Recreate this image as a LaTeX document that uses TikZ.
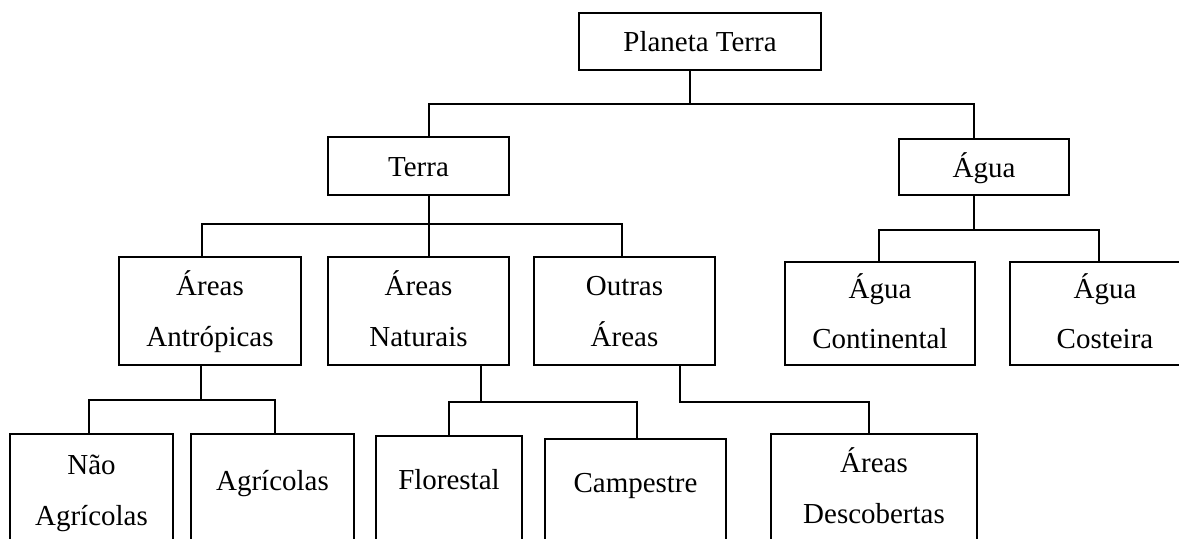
\documentclass[tikz,border=0pt]{standalone}
\usepackage{fontspec}
\setmainfont{Liberation Serif}
\begin{document}
\begin{tikzpicture}[
        x=0.025cm, y=-0.025cm,
        box/.style={rectangle, draw=black, line width=1.1pt, inner sep=0pt, align=center,
            font=\fontsize{20.6}{35.6}\selectfont, text height=0.875cm, text depth=0.375cm},
        twoline/.style={box, text height=2.125cm},
        link/.style={draw=black, line width=1.1pt}
    ]
    \useasboundingbox (0,0) rectangle (1179,539);
    \clip (0,0) rectangle (1179,539);

    % nivel 1
    \node[box, minimum width=6.05cm, minimum height=1.425cm] (planeta) at (700,41.5) {Planeta Terra};
    % nivel 2
    \node[box, minimum width=4.525cm, minimum height=1.45cm] (terra) at (418.5,166) {Terra};
    \node[box, minimum width=4.25cm, minimum height=1.4cm] (agua) at (984,167) {Água};
    % nivel 3
    \node[twoline, minimum width=4.55cm, minimum height=2.7cm] (antropicas) at (210,311) {Áreas\\Antrópicas};
    \node[twoline, minimum width=4.525cm, minimum height=2.7cm] (naturais) at (418.5,311) {Áreas\\Naturais};
    \node[twoline, minimum width=4.525cm, minimum height=2.7cm] (outras) at (624.5,311) {Outras\\Áreas};
    \node[twoline, minimum width=4.75cm, minimum height=2.575cm] (continental) at (880,313.5) {Água\\Continental};
    \node[twoline, minimum width=4.75cm, minimum height=2.575cm] (costeira) at (1105,313.5) {Água\\Costeira};
    % nivel 4
    \node[twoline, minimum width=4.075cm, minimum height=2.8cm] (naoagr) at (91.5,490) {Não\\Agrícolas};
    \node[twoline, minimum width=4.075cm, minimum height=3.6cm] (agricolas) at (272.5,506) {Agrícolas\\\phantom{A}};
    \node[twoline, minimum width=3.65cm, minimum height=3.45cm] (florestal) at (449,505) {Florestal\\\phantom{F}};
    \node[twoline, minimum width=4.525cm, minimum height=3.45cm] (campestre) at (635.5,508) {Campestre\\\phantom{C}};
    \node[twoline, minimum width=5.15cm, minimum height=2.7cm] (descobertas) at (874,488) {Áreas\\Descobertas};

    % ligacoes
    \draw[link] ([xshift=-0.25cm]planeta.south) -- ++(0,33) -| ([xshift=0.2625cm]terra.north);
    \draw[link] ([xshift=-0.25cm]planeta.south) -- ++(0,33) -| ([xshift=-0.25cm]agua.north);

    \draw[link] ([xshift=0.2625cm]terra.south) -- ++(0,28) -| ([xshift=-0.2cm]antropicas.north);
    \draw[link] ([xshift=0.2625cm]terra.south) -- ++(0,28) -| ([xshift=0.2625cm]naturais.north);
    \draw[link] ([xshift=0.2625cm]terra.south) -- ++(0,28) -| ([xshift=-0.0625cm]outras.north);

    \draw[link] ([xshift=-0.25cm]agua.south) -- ++(0,34) -| ([xshift=-0.025cm]continental.north);
    \draw[link] ([xshift=-0.25cm]agua.south) -- ++(0,34) -| ([xshift=-0.15cm]costeira.north);

    \draw[link] ([xshift=-0.225cm]antropicas.south) -- ++(0,34) -| ([xshift=-0.0625cm]naoagr.north);
    \draw[link] ([xshift=-0.225cm]antropicas.south) -- ++(0,34) -| ([xshift=0.0625cm]agricolas.north);

    \draw[link] ([xshift=1.5625cm]naturais.south) -- ++(0,36) -| (florestal.north);
    \draw[link] ([xshift=1.5625cm]naturais.south) -- ++(0,36) -| ([xshift=0.0375cm]campestre.north);

    \draw[link] ([xshift=1.3875cm]outras.south) -- ++(0,36) -| ([xshift=-0.125cm]descobertas.north);
\end{tikzpicture}
\end{document}
